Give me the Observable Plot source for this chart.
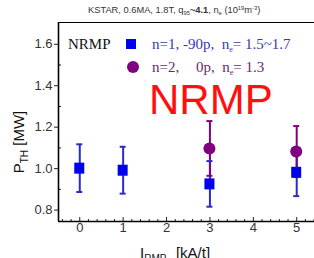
<!DOCTYPE html>
<html>
<head>
<meta charset="utf-8">
<script src="https://cdn.jsdelivr.net/npm/d3@7"></script>
<script src="https://cdn.jsdelivr.net/npm/@observablehq/plot@0.6"></script>
<style>
  html, body { margin: 0; padding: 0; background: #fff; overflow: hidden; width: 314px; height: 258px; }
  #title { position: absolute; left: 0; top: 0; width: 314px; height: 22px; }
  #chart { position: absolute; left: 0; top: 22px; }
</style>
</head>
<body>
<div id="title"></div>
<div id="chart"></div>
<script>
// Data
const series1X = [0, 1, 3, 5];
const series1Y = [1.00, 0.99, 0.924, 0.98];
const series1Err = [0.115, 0.113, 0.11, 0.115];
const series2X = [3, 5];
const series2Y = [1.095, 1.08];
const series2Err = [0.132, 0.123];
const yTicks = [0.8, 1.0, 1.2, 1.4, 1.6];
const yMinor = [0.9, 1.1, 1.3, 1.5];
const xTicks = [0, 1, 2, 3, 4, 5];
const xMinor = d3.range(-0.4, 5.41, 0.2).filter(v => Math.abs(v - Math.round(v)) > 0.05);

const s1 = series1X.map((x, i) => ({x, y: series1Y[i], lo: series1Y[i] - series1Err[i], hi: series1Y[i] + series1Err[i]}));
const s2 = series2X.map((x, i) => ({x, y: series2Y[i], lo: series2Y[i] - series2Err[i], hi: series2Y[i] + series2Err[i]}));

const blue = "#0000ee";
const blueBar = "#2a2acc";
const purple = "#800080";

const W = 314, H = 236;
const plot = Plot.plot({
  width: W, height: H,
  marginLeft: 58, marginRight: 0, marginTop: 0, marginBottom: 37,
  x: {type: "linear", domain: [-0.49, 5.41]},
  y: {type: "linear", domain: [0.745, 1.705]},
  style: {fontFamily: "Liberation Sans, Arial, sans-serif", fontSize: "13px", color: "#222", background: "transparent"},
  marks: [
    Plot.axisY({ticks: yTicks, tickFormat: d3.format(".1f"), tickSize: 4, tickPadding: 2, label: null, fontSize: 13, fill: "#333"}),
    Plot.axisY({ticks: yMinor, tickSize: -3, text: null, label: null}),
    Plot.axisX({ticks: xTicks, tickFormat: d3.format("d"), tickSize: -4, tickPadding: 5, label: null, fontSize: 13, fill: "#333"}),
    Plot.axisX({ticks: xMinor, tickSize: -2, text: null, label: null}),
    Plot.ruleX([-0.49], {stroke: "#000", strokeWidth: 1.6}),
    Plot.ruleY([0.745], {stroke: "#000", strokeWidth: 1.6}),
    Plot.ruleY([1.705], {stroke: "#000", strokeWidth: 1.2}),
    Plot.ruleX(s1, {x: "x", y1: "lo", y2: "hi", stroke: blueBar, strokeWidth: 2}),
    Plot.ruleX(s2, {x: "x", y1: "lo", y2: "hi", stroke: purple, strokeWidth: 2})
  ]
});

const sx = plot.scale("x"), sy = plot.scale("y");
document.getElementById("chart").appendChild(plot);
const svg = d3.select(plot);
const caps = svg.append("g");
function addCaps(data, color) {
  data.forEach(d => {
    [d.lo, d.hi].forEach(v => {
      caps.append("line")
        .attr("x1", sx.apply(d.x) - 3).attr("x2", sx.apply(d.x) + 3)
        .attr("y1", sy.apply(v)).attr("y2", sy.apply(v))
        .attr("stroke", color).attr("stroke-width", 2);
    });
  });
}
addCaps(s1, blueBar);
addCaps(s2, purple);
const pts = svg.append("g");
s2.forEach(d => pts.append("circle").attr("cx", sx.apply(d.x)).attr("cy", sy.apply(d.y)).attr("r", 6).attr("fill", purple));
s1.forEach(d => pts.append("rect").attr("x", sx.apply(d.x) - 5).attr("y", sy.apply(d.y) - 5.5).attr("width", 10).attr("height", 11).attr("fill", blue));

const sans = "Liberation Sans, Arial, sans-serif";
const serif = "Liberation Serif, Times New Roman, serif";

// Y label
const yl = svg.append("text")
  .attr("transform", `translate(24, ${H/2 + 2}) rotate(-90)`)
  .attr("text-anchor", "middle")
  .attr("font-family", sans)
  .attr("font-size", 15).attr("fill", "#111");
yl.append("tspan").text("P");
yl.append("tspan").attr("font-size", 10).attr("dy", 4).text("TH");
yl.append("tspan").attr("dy", -4).text(" [MW]");

// X label
const xl = svg.append("text")
  .attr("x", 140).attr("y", 236)
  .attr("text-anchor", "start")
  .attr("font-family", sans)
  .attr("font-size", 15).attr("fill", "#111");
xl.append("tspan").text("I");
xl.append("tspan").attr("font-size", 10).attr("dy", 4).text("RMP  ");
xl.append("tspan").attr("dy", -4).text(" [kA/t]");

// Legend
svg.append("text").attr("x", 68).attr("y", 27).attr("text-anchor", "start").attr("font-family", serif).attr("font-size", 15).attr("fill", "#111").text("NRMP");
svg.append("rect").attr("x", 126).attr("y", 17).attr("width", 10).attr("height", 10).attr("fill", blue);
const l1 = svg.append("text").attr("x", 152).attr("y", 27).attr("text-anchor", "start").attr("font-family", serif).attr("font-size", 15).attr("fill", "#3a3aa8");
l1.append("tspan").text("n=1, -90p,  n");
l1.append("tspan").attr("font-size", 8).attr("dy", 3).text("e");
l1.append("tspan").attr("dy", -3).text("= 1.5~1.7");
svg.append("circle").attr("cx", 133).attr("cy", 45).attr("r", 6).attr("fill", purple);
const l2 = svg.append("text").attr("x", 152).attr("y", 50).attr("text-anchor", "start").attr("font-family", serif).attr("font-size", 15).attr("fill", "#6a2a6a");
l2.append("tspan").text("n=2,");
l2.append("tspan").attr("x", 196).text("0p,  n");
l2.append("tspan").attr("font-size", 8).attr("dy", 3).text("e");
l2.append("tspan").attr("dy", -3).text("= 1.3");

// Big annotation
svg.append("text").attr("x", 149).attr("y", 92).attr("text-anchor", "start").attr("font-family", sans)
  .attr("font-size", 42).attr("fill", "#ff1010").text("NRMP");

// Title
const t = d3.select("#title").append("svg").attr("width", 314).attr("height", 22);
const tt = t.append("text").attr("x", 88).attr("y", 13).attr("text-anchor", "start").attr("font-family", sans)
  .attr("font-size", 9.3).attr("fill", "#333");
tt.append("tspan").text("KSTAR, 0.6MA, 1.8T, q");
tt.append("tspan").attr("font-size", 5.8).attr("dy", 2).text("95");
tt.append("tspan").attr("dy", -2).attr("font-weight", "bold").text("~4.1");
tt.append("tspan").text(",  n");
tt.append("tspan").attr("font-size", 5.8).attr("dy", 2).text("e");
tt.append("tspan").attr("dy", -2).text(" (10");
tt.append("tspan").attr("font-size", 5.8).attr("dy", -3).text("19");
tt.append("tspan").attr("dy", 3).text("m");
tt.append("tspan").attr("font-size", 5.8).attr("dy", -3).text("-3");
tt.append("tspan").attr("dy", 3).text(")");
</script>
</body>
</html>
